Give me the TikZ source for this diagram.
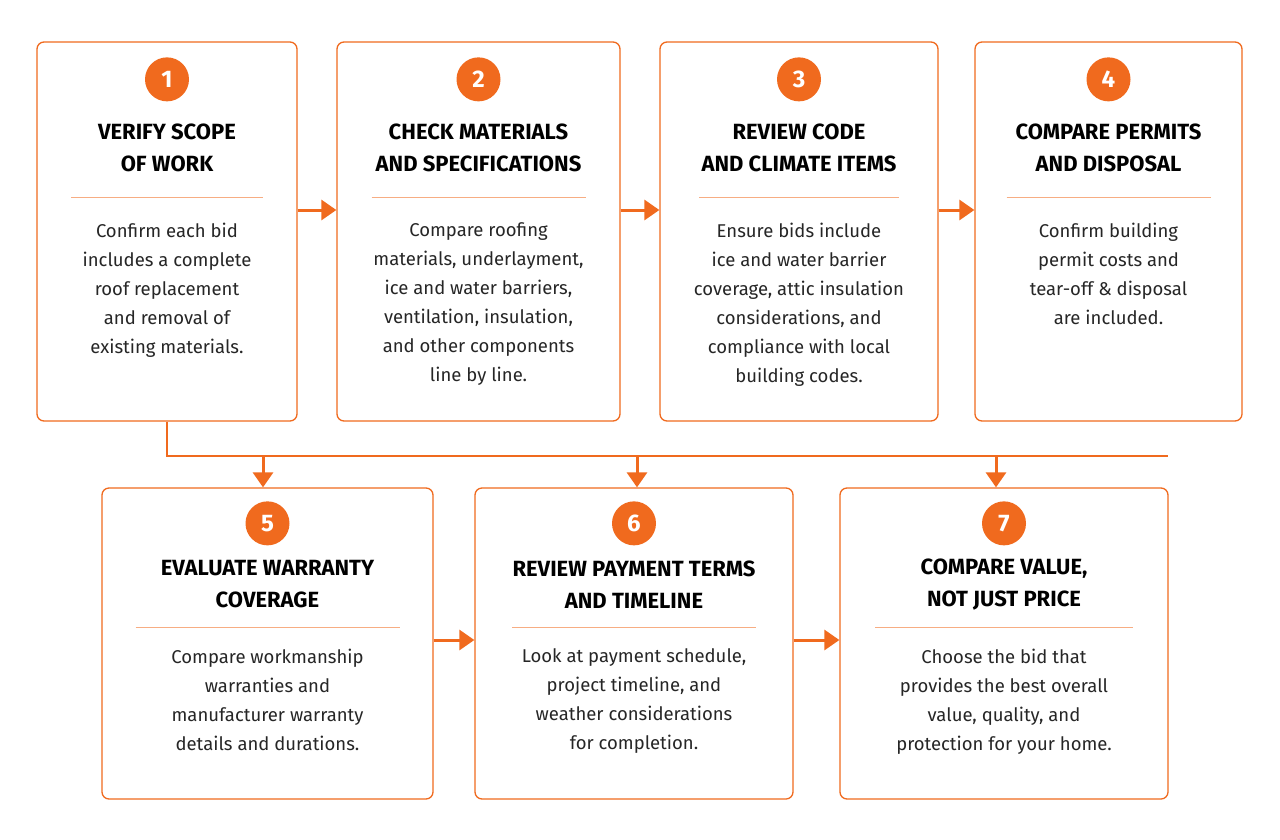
\documentclass[tikz,border=0pt]{standalone}
\usepackage{fontspec}
\setmainfont{Fira Sans}
\usetikzlibrary{positioning,arrows.meta}
\definecolor{stepOrange}{HTML}{F06A1E}
\newcommand{\numOff}{38pt}
\newcommand{\ttlOff}{107pt}
\newcommand{\sepOff}{156pt}
\newcommand{\txtOff}{178pt}
\newcommand{\stepBox}[9]{%
  \node[box, minimum width=#4, minimum height=#5] (#1) at (#2,#3) {};
  \node[num] (#1n) at ([yshift=-\numOff]#1.north) {#6};
  \node[ttl] (#1t) at ([yshift=-\ttlOff]#1.north) {#7};
  \draw[sep] ([xshift=-#9,yshift=-\sepOff]#1.north) -- ([xshift=#9,yshift=-\sepOff]#1.north);
  \node[txt] (#1b) at ([yshift=-\txtOff]#1.north) {#8};
}
\begin{document}
\begin{tikzpicture}[x=1pt,y=-1pt,
  box/.style={draw=stepOrange, line width=1.3pt, rounded corners=7pt, fill=white},
  num/.style={circle, fill=stepOrange, text=white, minimum size=44pt, inner sep=0pt, font=\fontsize{24}{24}\selectfont\bfseries},
  ttl/.style={align=center, font=\fontsize{22}{32}\selectfont\bfseries, text=black},
  txt/.style={align=center, anchor=north, font=\fontsize{18.5}{29}\selectfont, text=black!85},
  sep/.style={draw=stepOrange!55, line width=0.7pt},
  link/.style={draw=stepOrange, line width=3pt, -{Triangle[length=15pt,width=20pt]}}]
\fill[white] (0,0) rectangle (1280,839);
\useasboundingbox (0,0) rectangle (1280,839);
\stepBox{s1}{167}{231.5}{260pt}{379pt}{1}{VERIFY SCOPE\\OF WORK}{Confirm each bid\\includes a complete\\roof replacement\\and removal of\\existing materials.}{96pt}
\stepBox{s2}{478.5}{231.5}{283pt}{379pt}{2}{CHECK MATERIALS\\AND SPECIFICATIONS}{Compare roofing\\materials, underlayment,\\ice and water barriers,\\ventilation, insulation,\\and other components\\line by line.}{107pt}
\stepBox{s3}{799}{231.5}{278pt}{379pt}{3}{REVIEW CODE\\AND CLIMATE ITEMS}{Ensure bids include\\ice and water barrier\\coverage, attic insulation\\considerations, and\\compliance with local\\building codes.}{100pt}
\stepBox{s4}{1108.5}{231.5}{267pt}{379pt}{4}{COMPARE PERMITS\\AND DISPOSAL}{Confirm building\\permit costs and\\tear-off \& disposal\\are included.}{102pt}
% second row sits tighter
\renewcommand{\numOff}{36pt}
\renewcommand{\ttlOff}{97pt}
\renewcommand{\sepOff}{140pt}
\renewcommand{\txtOff}{158pt}
\stepBox{s5}{267.5}{643.5}{331pt}{311pt}{5}{EVALUATE WARRANTY\\COVERAGE}{Compare workmanship\\warranties and\\manufacturer warranty\\details and durations.}{132pt}
\stepBox{s6}{634}{643.5}{318pt}{311pt}{6}{REVIEW PAYMENT TERMS\\AND TIMELINE}{Look at payment schedule,\\project timeline, and\\weather considerations\\for completion.}{122pt}
\stepBox{s7}{1004}{643.5}{328pt}{311pt}{7}{COMPARE VALUE,\\NOT JUST PRICE}{Choose the bid that\\provides the best overall\\value, quality, and\\protection for your home.}{129pt}
% arrows between steps
\draw[link] (s1.east |- 0,210) -- (s2.west |- 0,210);
\draw[link] (s2.east |- 0,210) -- (s3.west |- 0,210);
\draw[link] (s3.east |- 0,210) -- (s4.west |- 0,210);
\draw[link] (s5.east |- 0,640) -- (s6.west |- 0,640);
\draw[link] (s6.east |- 0,640) -- (s7.west |- 0,640);
% bus line to second row
\coordinate (bus) at (1168,456);
\draw[stepOrange, line width=2pt] (s1.south) |- (bus);
\draw[link] (263,456) -- (s5.north -| 263,0);
\draw[link] (637,456) -- (s6.north -| 637,0);
\draw[link] (996,456) -- (s7.north -| 996,0);
\end{tikzpicture}
\end{document}
